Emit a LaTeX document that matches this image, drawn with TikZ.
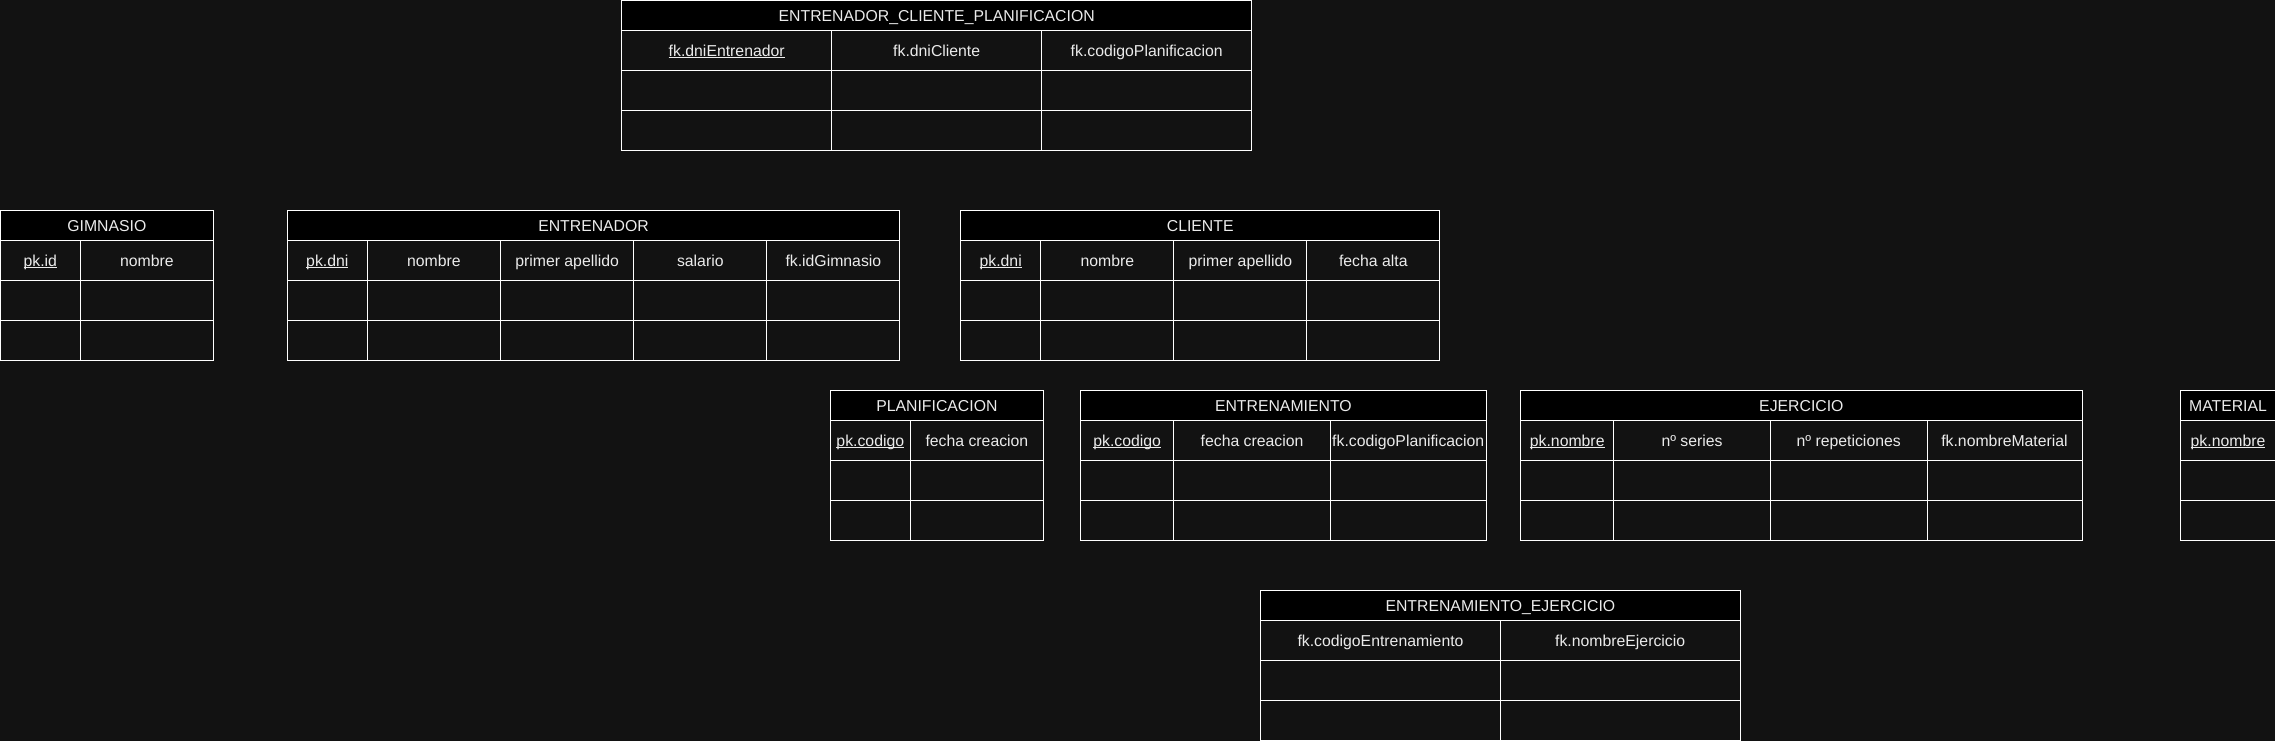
\documentclass[tikz,border=0pt]{standalone}
\usepackage{fontspec}
\setmainfont{Liberation Sans}
\definecolor{pagebg}{RGB}{18,18,18}
\definecolor{celltxt}{RGB}{235,235,235}
\newcommand\ulx[1]{\setbox0=\hbox{#1}\rlap{\rule[-1.7pt]{\wd0}{0.8pt}}\box0}
\tikzset{
  cellbox/.style={draw=white, line width=1pt, fill=pagebg, text=celltxt, inner sep=0pt, outer sep=0pt,
    minimum height=40pt, text height=12.4pt, text depth=0pt, font=\fontsize{15.8}{19}\selectfont},
  titlecell/.style={cellbox, fill=black, minimum height=30pt}
}
\newcommand\ertable[6]{%
  \pgfmathsetmacro\ertw{#4-#3}\pgfmathsetmacro\ertc{(#3+#4)/2}%
  \node[titlecell,minimum width=\ertw pt] (#1-title) at (\ertc,#2+15) {#5};
  \foreach \xa/\xb/\txt [count=\i] in {#6}{%
    \pgfmathsetmacro\ercw{\xb-\xa}\pgfmathsetmacro\ercx{(\xa+\xb)/2}%
    \node[cellbox,minimum width=\ercw pt] (#1-h\i) at (\ercx,#2+50) {\txt};
    \node[cellbox,minimum width=\ercw pt] (#1-r\i) at (\ercx,#2+90) {};
    \node[cellbox,minimum width=\ercw pt] (#1-s\i) at (\ercx,#2+130) {};
  }%
}
\begin{document}
\begin{tikzpicture}[x=1pt,y=-1pt]
\fill[pagebg] (0,0) rectangle (2275,741);
\useasboundingbox (0,0) rectangle (2275,741);
\clip (0,0) rectangle (2275,741);
\ertable{ecp}{0.3}{621.7}{1251.7}{ENTRENADOR\_CLIENTE\_PLANIFICACION}
  {621.7/831.7/{\ulx{fk.dniEntrenador}},831.7/1041.7/{fk.dniCliente},1041.7/1251.7/{fk.codigoPlanificacion}}
\ertable{gim}{210.3}{0.3}{213.5}{GIMNASIO}
  {0.3/80.3/{\ulx{pk.id}},80.3/213.5/{nombre}}
\ertable{ent}{210.3}{287.3}{899.8}{ENTRENADOR}
  {287.3/367.3/{\ulx{pk.dni}},367.3/500.5/{nombre},500.5/633.7/{primer apellido},633.7/766.9/{salario},766.9/899.8/{fk.idGimnasio}}
\ertable{cli}{210.3}{960.7}{1439.7}{CLIENTE}
  {960.7/1040.7/{\ulx{pk.dni}},1040.7/1173.9/{nombre},1173.9/1306.9/{primer apellido},1306.9/1439.7/{fecha alta}}
\ertable{pla}{390.3}{830.3}{1043.5}{PLANIFICACION}
  {830.3/910.3/{\ulx{pk.codigo}},910.3/1043.5/{fecha creacion}}
\ertable{enm}{390.3}{1080.7}{1486}{ENTRENAMIENTO}
  {1080.7/1173.7/{\ulx{pk.codigo}},1173.7/1330.4/{fecha creacion},1330.4/1486/{fk.codigoPlanificacion}}
\ertable{eje}{390.3}{1520.7}{2082}{EJERCICIO}
  {1520.7/1613.7/{\ulx{pk.nombre}},1613.7/1770.4/{nº series},1770.4/1927/{nº repeticiones},1927/2082/{fk.nombreMaterial}}
\ertable{mat}{390.3}{2180.5}{2275.5}{MATERIAL}
  {2180.5/2275.5/{\ulx{pk.nombre}}}
\ertable{ee}{590.5}{1260.7}{1740}{ENTRENAMIENTO\_EJERCICIO}
  {1260.7/1500.3/{fk.codigoEntrenamiento},1500.3/1740/{fk.nombreEjercicio}}
\end{tikzpicture}
\end{document}
